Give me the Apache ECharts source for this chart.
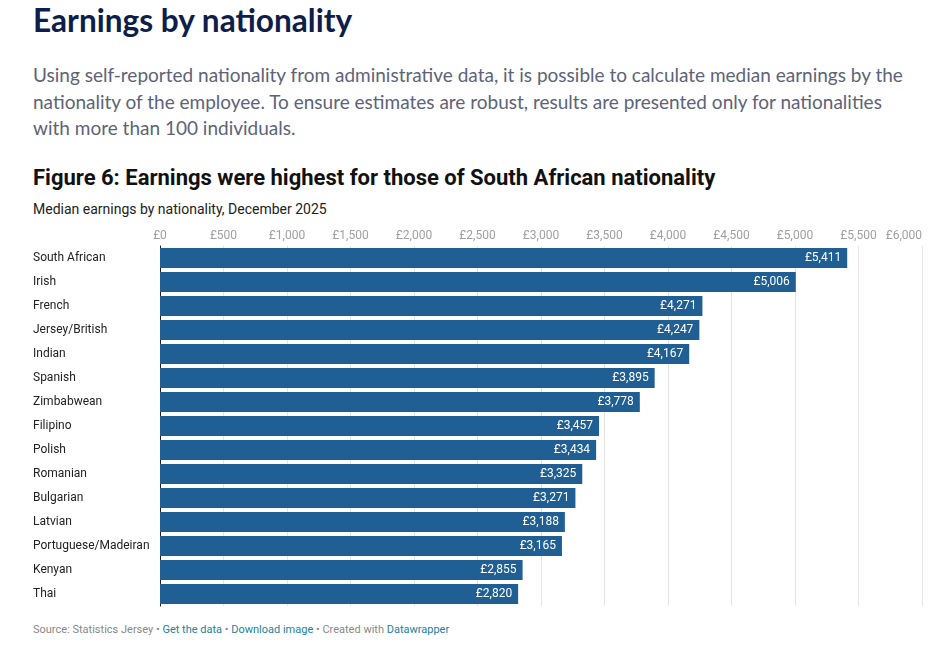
<!DOCTYPE html>
<html>
<head>
<meta charset="utf-8">
<script src="https://cdn.jsdelivr.net/npm/echarts@6/dist/echarts.min.js"></script>
<style>
  body { margin: 0; background: #fff; width: 947px; height: 646px; position: relative; overflow: hidden; }
  .h1 { position: absolute; left: 33px; top: 0px; font-family: Lato, sans-serif; font-weight: 700; font-size: 31.6px; color: #0e1d4a; line-height: 40px; }
  .lead { position: absolute; left: 33px; top: 62px; width: 885px; font-family: Lato, sans-serif; font-size: 19px; line-height: 26.5px; color: #5c6379; }
  .fig { position: absolute; left: 33px; top: 165px; font-family: Roboto, sans-serif; font-weight: 700; font-size: 22px; color: #111; }
  .sub { position: absolute; left: 33px; top: 201px; font-family: Roboto, sans-serif; font-size: 14px; color: #222; }
  .foot { position: absolute; left: 33px; top: 623px; font-family: Roboto, sans-serif; font-size: 11px; color: #888; }
  .foot a { color: #1d81a2; text-decoration: none; }
  #chartContainer { position: absolute; left: 0; top: 221px; width: 947px; height: 390px; }
</style>
</head>
<body>
<div class="h1">Earnings by nationality</div>
<div class="lead">Using self-reported nationality from administrative data, it is possible to calculate median earnings by the nationality of the employee. To ensure estimates are robust, results are presented only for nationalities with more than 100 individuals.</div>
<div class="fig">Figure 6: Earnings were highest for those of South African nationality</div>
<div class="sub">Median earnings by nationality, December 2025</div>
<div id="chartContainer"></div>
<div class="foot">Source: Statistics Jersey • <a>Get the data</a> • <a>Download image</a> • Created with <a>Datawrapper</a></div>
<script>
const nationalities = ['South African', 'Irish', 'French', 'Jersey/British', 'Indian', 'Spanish', 'Zimbabwean',
  'Filipino', 'Polish', 'Romanian', 'Bulgarian', 'Latvian', 'Portuguese/Madeiran', 'Kenyan', 'Thai'];
const medianEarnings = [5411, 5006, 4271, 4247, 4167, 3895, 3778, 3457, 3434, 3325, 3271, 3188, 3165, 2855, 2820];
const axisMax = 6000;
const tickStep = 500;

const fmt = v => '£' + v.toLocaleString('en-GB');

const chartDom = document.getElementById('chartContainer');
const myChart = echarts.init(chartDom);

const option = {
  animation: false,
  grid: { left: 160, right: 25, top: 25, bottom: 5 },
  xAxis: {
    type: 'value',
    position: 'top',
    min: 0,
    max: axisMax,
    interval: tickStep,
    axisLine: { show: false },
    axisTick: { show: false },
    splitLine: { lineStyle: { color: '#e3e3e3', width: 1 } },
    axisLabel: {
      formatter: fmt,
      color: '#a0a0a0',
      fontFamily: 'Roboto',
      fontSize: 12,
      margin: 4,
      alignMaxLabel: 'right'
    }
  },
  yAxis: {
    type: 'category',
    inverse: true,
    data: nationalities,
    axisTick: { show: false },
    axisLine: { lineStyle: { color: '#222', width: 1 } },
    axisLabel: {
      align: 'left',
      margin: 127,
      color: '#222',
      fontFamily: 'Roboto',
      fontSize: 12
    }
  },
  series: [
    {
      type: 'bar',
      data: medianEarnings,
      barCategoryGap: '17%',
      itemStyle: { color: '#1f5f94' },
      label: {
        show: true,
        position: 'insideRight',
        formatter: p => fmt(p.value),
        color: '#fff',
        fontFamily: 'Roboto',
        fontSize: 12,
        offset: [-1, 0]
      }
    }
  ]
};

myChart.setOption(option);
</script>
</body>
</html>
